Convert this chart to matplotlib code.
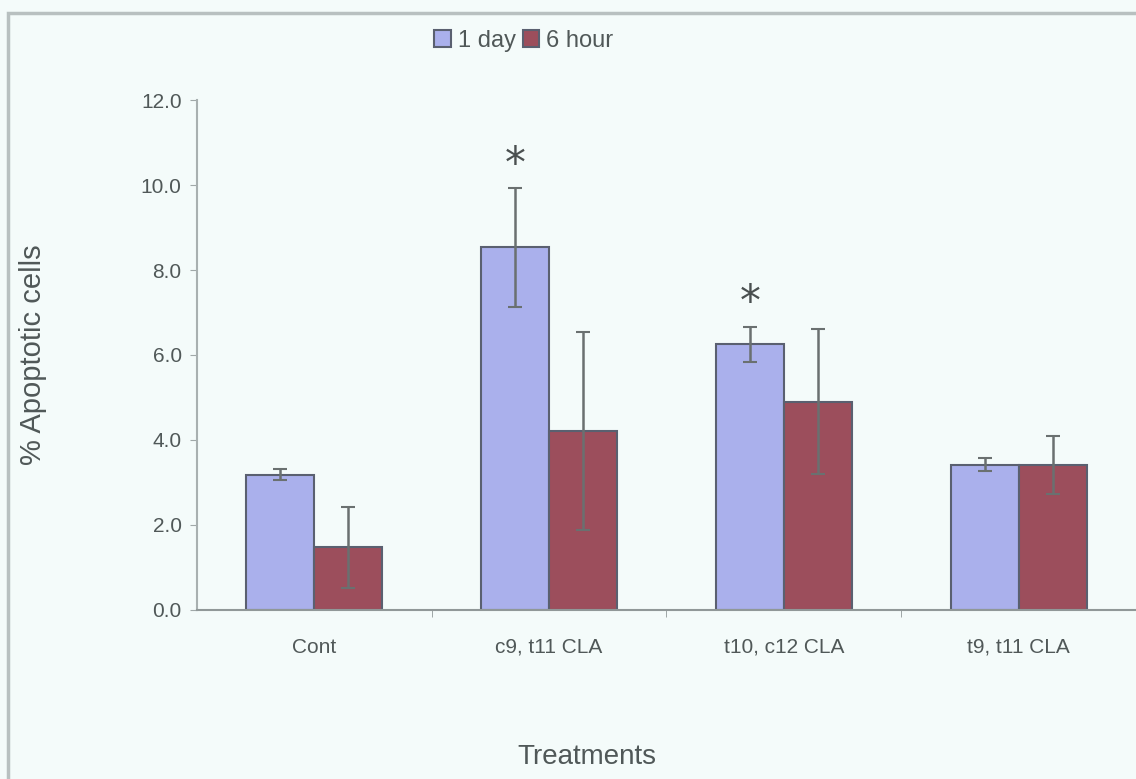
import numpy as np
import matplotlib
matplotlib.use('Agg')
import matplotlib.pyplot as plt
from matplotlib.patches import Rectangle, Patch

# data
treatments = ['Cont', 'c9, t11 CLA', 't10, c12 CLA', 't9, t11 CLA']
day1 = [3.18, 8.53, 6.25, 3.42]
day1_err = [0.13, 1.40, 0.42, 0.15]
hour6 = [1.47, 4.20, 4.90, 3.42]
hour6_err = [0.96, 2.33, 1.70, 0.68]
signif_1day = [False, True, True, False]

bg = '#f4fbfa'
txt = '#505858'
edge = '#5a6070'

plt.rcParams['font.family'] = ['Liberation Sans', 'DejaVu Sans']

fig = plt.figure(figsize=(11.36, 7.79), dpi=100, facecolor=bg)
ax = fig.add_axes([0.1734, 0.217, 0.8266, 0.6546])
ax.set_facecolor(bg)

x = np.arange(len(treatments))
w = 0.29
ax.bar(x - w/2, day1, w, color='#aab0ec', edgecolor=edge, linewidth=1.5, zorder=2)
ax.bar(x + w/2, hour6, w, color='#9c4e5c', edgecolor=edge, linewidth=1.5, zorder=2)
ax.errorbar(x - w/2, day1, yerr=day1_err, fmt='none', ecolor='#6a7070',
            elinewidth=1.8, capsize=5, capthick=1.5, zorder=3)
ax.errorbar(x + w/2, hour6, yerr=hour6_err, fmt='none', ecolor='#6a7070',
            elinewidth=1.8, capsize=5, capthick=1.5, zorder=3)

for i, s in enumerate(signif_1day):
    if s:
        ax.text(x[i] - w/2, day1[i] + day1_err[i] + 0.05, '*', ha='center', va='bottom',
                fontsize=30, color='#4a5050', family='DejaVu Sans')

ax.set_xlim(-0.5, 3.5)
ax.set_ylim(0, 12)
ax.set_yticks(np.arange(0, 12.1, 2))
ax.set_yticklabels(['%.1f' % v for v in np.arange(0, 12.1, 2)], fontsize=15, color=txt)
ax.set_xticks(x)
ax.set_xticklabels(treatments, fontsize=15, color=txt)
ax.set_xticks([0.5, 1.5, 2.5], minor=True)
ax.tick_params(axis='x', which='major', length=0, pad=20)
ax.tick_params(axis='x', which='minor', length=5, color='#909898', direction='out')
ax.tick_params(axis='y', length=5, color='#a0a8a8', pad=6)

for s in ['top', 'right']:
    ax.spines[s].set_visible(False)
ax.spines['left'].set_color('#a8b0b0')
ax.spines['left'].set_linewidth(1.5)
ax.spines['bottom'].set_color('#909898')
ax.spines['bottom'].set_linewidth(1.5)

fig.text(0.029, 0.545, '% Apoptotic cells', ha='center', va='center', rotation=90,
         fontsize=21, color=txt)
fig.text(0.517, 0.028, 'Treatments', ha='center', va='center', fontsize=20, color=txt)

handles = [Patch(facecolor='#aab0ec', edgecolor=edge, linewidth=1.5, label='1 day'),
           Patch(facecolor='#9c4e5c', edgecolor=edge, linewidth=1.5, label='6 hour')]
fig.legend(handles=handles, loc='center', bbox_to_anchor=(0.461, 0.948), ncol=2,
           frameon=False, fontsize=17, handlelength=0.7, handleheight=0.7,
           handletextpad=0.3, columnspacing=0.3, labelcolor=txt)

# outer chart border
fig.patches.append(Rectangle((0.007, -0.1), 1.1, 1.0833, transform=fig.transFigure,
                             fill=False, edgecolor='#b8c0c0', linewidth=2.5))

fig.savefig('out.png', dpi=100, facecolor=bg)
